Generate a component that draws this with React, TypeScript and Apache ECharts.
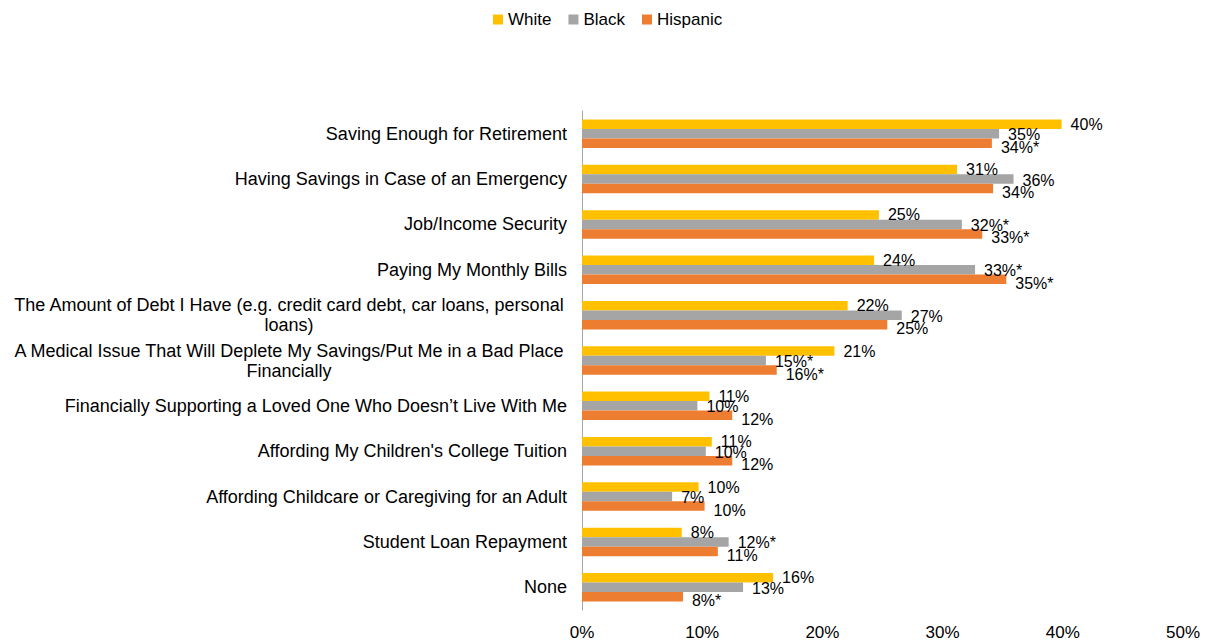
import React, { useEffect, useRef } from "react";
import * as echarts from "echarts";

const categories = [
  "Saving Enough for Retirement",
  "Having Savings in Case of an Emergency",
  "Job/Income Security",
  "Paying My Monthly Bills",
  "The Amount of Debt I Have (e.g. credit card debt, car loans, personal\nloans)",
  "A Medical Issue That Will Deplete My Savings/Put Me in a Bad Place\nFinancially",
  "Financially Supporting a Loved One Who Doesn\u2019t Live With Me",
  "Affording My Children's College Tuition",
  "Affording Childcare or Caregiving for an Adult",
  "Student Loan Repayment",
  "None",
];

const whiteValues = [39.9, 31.2, 24.7, 24.3, 22.1, 21.0, 10.6, 10.8, 9.7, 8.3, 15.9];
const blackValues = [34.7, 35.9, 31.6, 32.7, 26.6, 15.3, 9.6, 10.3, 7.5, 12.2, 13.4];
const hispanicValues = [34.1, 34.2, 33.3, 35.3, 25.4, 16.2, 12.5, 12.5, 10.2, 11.3, 8.4];

const whiteLabels = ["40%", "31%", "25%", "24%", "22%", "21%", "11%", "11%", "10%", "8%", "16%"];
const blackLabels = ["35%", "36%", "32%*", "33%*", "27%", "15%*", "10%", "10%", "7%", "12%*", "13%"];
const hispanicLabels = ["34%*", "34%", "33%*", "35%*", "25%", "16%*", "12%", "12%", "10%", "11%", "8%*"];

const xTicks = [0, 10, 20, 30, 40, 50];

const FONT = "'Liberation Sans', Arial, sans-serif";

export default function App() {
  const ref = useRef<HTMLDivElement>(null);

  useEffect(() => {
    if (!ref.current) return;
    const chart = echarts.init(ref.current, null, { renderer: "svg" });

    const mkSeries = (name: string, values: number[], labels: string[], color: string, dy: number) => ({
      name,
      type: "bar",
      data: values,
      barWidth: 9.5,
      barGap: "0%",
      itemStyle: { color },
      label: {
        show: true,
        position: "right",
        distance: 9,
        offset: [0, dy],
        fontFamily: FONT,
        fontSize: 16,
        color: "#000",
        formatter: (p: any) => labels[p.dataIndex],
      },
    });

    chart.setOption({
      animation: false,
      textStyle: { fontFamily: FONT },
      legend: {
        top: 6,
        left: 488,
        icon: "rect",
        itemWidth: 10,
        itemHeight: 10,
        itemGap: 17,
        textStyle: { fontFamily: FONT, fontSize: 17, color: "#000" },
        data: ["White", "Black", "Hispanic"],
      },
      grid: { left: 582, right: 23, top: 111, bottom: 31, containLabel: false },
      xAxis: {
        type: "value",
        min: xTicks[0],
        max: xTicks[xTicks.length - 1],
        interval: 10,
        axisLine: { show: false },
        axisTick: { show: false },
        splitLine: { show: false },
        axisLabel: {
          margin: 14,
          fontFamily: FONT,
          fontSize: 17,
          color: "#000",
          formatter: "{value}%",
        },
      },
      yAxis: {
        type: "category",
        inverse: true,
        data: categories,
        axisLine: { show: true, lineStyle: { color: "#A6A6A6", width: 1 } },
        axisTick: { show: false },
        axisLabel: {
          margin: 15,
          fontFamily: FONT,
          fontSize: 18,
          color: "#000",
          align: "right",
          lineHeight: 20,
          formatter: (v: string) => {
            if (v.indexOf("\n") < 0) return v;
            return v
              .split("\n")
              .map((s) => "{c|" + s + "}")
              .join("\n");
          },
          rich: {
            c: {
              width: 556,
              align: "center",
              fontFamily: FONT,
              fontSize: 18,
              color: "#000",
              lineHeight: 20,
            },
          },
        },
      },
      series: [
        mkSeries("White", whiteValues, whiteLabels, "#FFC000", 0),
        mkSeries("Black", blackValues, blackLabels, "#A5A5A5", 1),
        mkSeries("Hispanic", hispanicValues, hispanicLabels, "#ED7D31", 4),
      ],
    });

    return () => chart.dispose();
  }, []);

  return (
    <div
      ref={ref}
      style={{ position: "fixed", left: 0, top: 0, width: 1206, height: 641, background: "#fff" }}
    />
  );
}
